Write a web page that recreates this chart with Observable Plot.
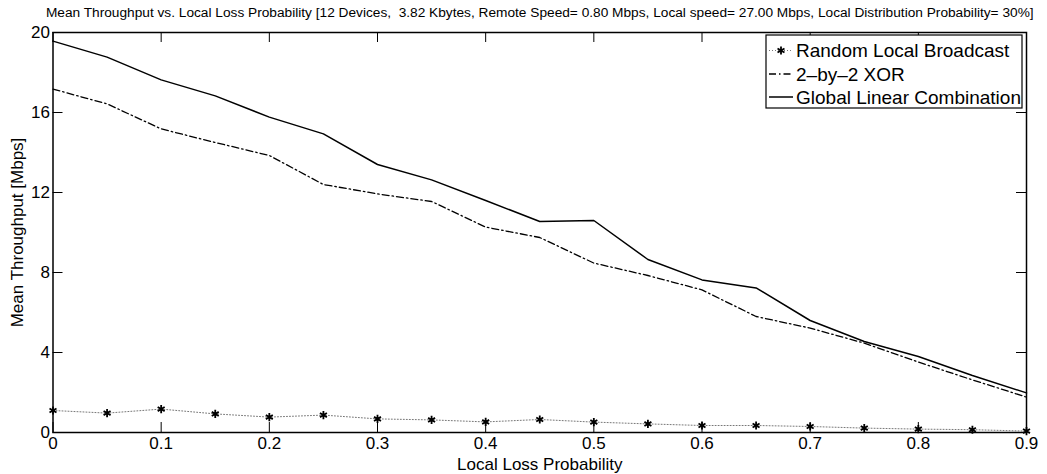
<!DOCTYPE html>
<html>
<head>
<meta charset="utf-8">
<script src="https://cdn.jsdelivr.net/npm/d3@7"></script>
<script src="https://cdn.jsdelivr.net/npm/@observablehq/plot@0.6"></script>
<style>
  html, body { margin: 0; padding: 0; background: #fff; }
  #chart { width: 1047px; height: 474px; }
</style>
</head>
<body>
<div id="chart"></div>
<script>
// Mean throughput (Mbps) against local loss probability for three coding schemes
const lossProbability = [0, 0.05, 0.1, 0.15, 0.2, 0.25, 0.3, 0.35, 0.4, 0.45, 0.5, 0.55, 0.6, 0.65, 0.7, 0.75, 0.8, 0.85, 0.9];
const randomLocalBroadcast = [1.1, 0.97, 1.17, 0.93, 0.77, 0.87, 0.68, 0.63, 0.53, 0.65, 0.52, 0.43, 0.35, 0.35, 0.3, 0.22, 0.17, 0.14, 0.07];
const xor2by2 = [17.17, 16.43, 15.18, 14.5, 13.85, 12.4, 11.93, 11.55, 10.27, 9.75, 8.47, 7.85, 7.13, 5.8, 5.22, 4.47, 3.52, 2.63, 1.77];
const globalLinearCombination = [19.57, 18.77, 17.63, 16.83, 15.77, 14.93, 13.4, 12.63, 11.6, 10.55, 10.6, 8.65, 7.63, 7.23, 5.6, 4.55, 3.8, 2.85, 1.98];

const xTicks = [0, 0.1, 0.2, 0.3, 0.4, 0.5, 0.6, 0.7, 0.8, 0.9];
const yTicks = [0, 4, 8, 12, 16, 20];
const seriesNames = ["Random Local Broadcast", "2\u2013by\u20132 XOR", "Global Linear Combination"];
const title = "Mean Throughput vs. Local Loss Probability [12 Devices,  3.82 Kbytes, Remote Speed= 0.80 Mbps, Local speed= 27.00 Mbps, Local Distribution Probability= 30%]";
const xLabel = "Local Loss Probability";
const yLabel = "Mean Throughput [Mbps]";

const rows = lossProbability.map((p, i) => ({
  p,
  rlb: randomLocalBroadcast[i],
  xor: xor2by2[i],
  glc: globalLinearCombination[i]
}));

const font = "'Liberation Sans', Arial, Helvetica, sans-serif";
const W = 1047, H = 474;
const mTop = 32, mLeft = 52.5, mRight = 21, mBottom = 42;
const frameW = W - mLeft - mRight, frameH = H - mTop - mBottom;
const tickLen = 10;

const dotted = "1,2";
const dashDot = "7,3,1.5,3";

const plot = Plot.plot({
  width: W,
  height: H,
  marginTop: mTop,
  marginLeft: mLeft,
  marginRight: mRight,
  marginBottom: mBottom,
  style: { fontFamily: font, background: "#fff", color: "#000", overflow: "visible" },
  x: { domain: [0, 0.9] },
  y: { domain: [0, 20] },
  marks: [
    // inward ticks on all four sides
    Plot.tickX(xTicks, { x: d => d, insetTop: frameH - tickLen, stroke: "#000" }),
    Plot.tickX(xTicks, { x: d => d, insetBottom: frameH - tickLen, stroke: "#000" }),
    Plot.tickY(yTicks, { y: d => d, insetRight: frameW - tickLen, stroke: "#000" }),
    Plot.tickY(yTicks, { y: d => d, insetLeft: frameW - tickLen, stroke: "#000" }),
    // series
    Plot.lineY(rows, { x: "p", y: "rlb", stroke: "#777", strokeWidth: 1, strokeDasharray: dotted }),
    Plot.dot(rows, { x: "p", y: "rlb", symbol: "asterisk", r: 3.8, stroke: "#000", strokeWidth: 1.8 }),
    Plot.lineY(rows, { x: "p", y: "xor", stroke: "#000", strokeWidth: 1.3, strokeDasharray: dashDot }),
    Plot.lineY(rows, { x: "p", y: "glc", stroke: "#000", strokeWidth: 1.5 }),
    Plot.frame({ stroke: "#000", strokeWidth: 1.5 }),
    // tick labels
    Plot.axisX({ ticks: xTicks, tickSize: 0, tickPadding: 4, tickFormat: d => String(d), fontSize: 17, label: null }),
    Plot.axisY({ ticks: yTicks, tickSize: 0, tickPadding: 3, tickFormat: d => String(d), fontSize: 17, label: null }),
    // axis titles and chart title
    Plot.text([xLabel], { text: d => d, frameAnchor: "bottom", dy: 32, lineAnchor: "middle", textAnchor: "middle", fontSize: 17 }),
    Plot.text([yLabel], { text: d => d, frameAnchor: "left", dx: -35.5, rotate: -90, lineAnchor: "middle", textAnchor: "middle", fontSize: 17 }),
    Plot.text([title], { text: d => d, frameAnchor: "top", dy: -20, lineAnchor: "middle", textAnchor: "middle", fontSize: 13.7 })
  ]
});

document.getElementById("chart").appendChild(plot);

// legend box in the upper right corner of the axes
const svg = d3.select(plot);
const lg = svg.append("g").attr("font-family", font).attr("font-size", 19).attr("text-anchor", "start");
const lx = 766, ly = 35, lw = 256, lh = 73;
lg.append("rect").attr("x", lx).attr("y", ly).attr("width", lw).attr("height", lh)
  .attr("fill", "#fff").attr("stroke", "#000").attr("stroke-width", 1.2);
const rowY = [50.5, 74, 97];
const styles = [
  { dash: dotted, stroke: "#777", width: 1, marker: true },
  { dash: dashDot, stroke: "#000", width: 1.3, marker: false },
  { dash: null, stroke: "#000", width: 1.5, marker: false }
];
seriesNames.forEach((name, i) => {
  const s = styles[i];
  const y = rowY[i];
  const ln = lg.append("line").attr("x1", lx + 3).attr("x2", lx + 27).attr("y1", y).attr("y2", y)
    .attr("stroke", s.stroke).attr("stroke-width", s.width);
  if (s.dash) ln.attr("stroke-dasharray", s.dash);
  if (s.marker) {
    lg.append("path").attr("d", d3.symbol(d3.symbolAsterisk, 45)())
      .attr("transform", `translate(${lx + 15},${y})`)
      .attr("fill", "none").attr("stroke", "#000").attr("stroke-width", 1.8);
  }
  lg.append("text").attr("x", lx + 30).attr("y", y).attr("dy", "0.35em").text(name);
});
</script>
</body>
</html>
